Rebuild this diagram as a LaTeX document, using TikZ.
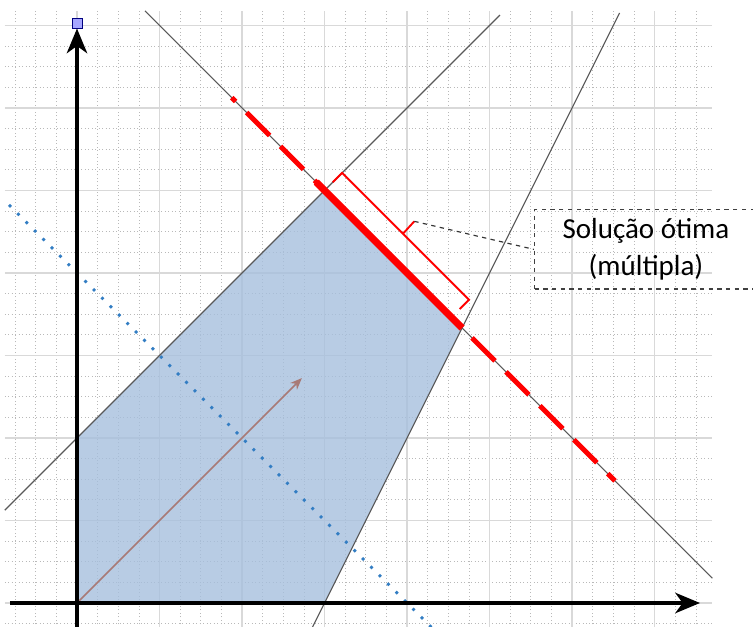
\documentclass[tikz,border=0pt]{standalone}
\usepackage{fontspec}
\setmainfont{Carlito}
\usetikzlibrary{arrows.meta,positioning,calc}

\definecolor{regionblue}{RGB}{166,191,221}
\definecolor{dotblue}{RGB}{50,125,195}
\definecolor{arrowbrown}{RGB}{168,122,118}

\begin{document}
\begin{tikzpicture}[x=0.5cm, y=0.5cm,
  minorgrid/.style={gray!55, line width=0.5pt, dash pattern=on 0.6pt off 1.8pt},
  majorgrid/.style={gray!30, line width=0.9pt},
  region/.style={fill=regionblue, fill opacity=0.8},
  constr/.style={draw=black!65, line width=0.8pt},
  isoline/.style={dotblue, line width=2.7pt, line cap=round, dash pattern=on 0pt off 8.2pt},
  gradarrow/.style={draw=arrowbrown, line width=1pt, -{Stealth[length=8pt,width=6.5pt,inset=2.5pt]}},
  optline/.style={red, line width=3.4pt, dash pattern=on 22.4pt off 10.7pt},
  optseg/.style={red, line width=4.8pt},
  axis/.style={line width=2.8pt, -{Stealth[length=17pt,width=14pt,inset=5pt]}},
  bracket/.style={red, line width=1.3pt},
  leader/.style={black!80, dashed, line width=0.8pt},
  callout/.style={draw=black!75, dashed, line width=0.9pt, align=center, minimum width=5.4cm, minimum height=1.92cm, inner sep=0pt, font=\fontsize{20}{25}\selectfont}
]
\useasboundingbox (-3.732,-1.163) rectangle (32.768,29.229);

% corners of the feasible region
\coordinate (O) at (0,0);
\coordinate (A) at (0,8);
\coordinate (B) at (12,20);
\coordinate (C) at (18.667,13.333);
\coordinate (D) at (12,0);

\draw[minorgrid, step=1] (-3.5,-1.2) grid (30.8,28.7);
\draw[majorgrid, step=4] (-3.5,-1.2) grid (30.8,28.7);

\fill[region] (O) -- (A) -- (B) -- (C) -- (D) -- cycle;

% constraints
\draw[constr] (-3.5,4.5) -- (20.5,28.5);
\draw[constr] (11.3,-1.4) -- (26.3,28.6);
\draw[constr] (3.3,28.7) -- (30.8,1.2);

\draw[isoline] (-3.25,19.25) -- (17.3,-1.3);
\draw[gradarrow] (O) -- (10.9,10.9);

% optimal objective line
\draw[optline, dash phase=12.6pt] (B) -- (7.5,24.5);
\draw[optline, dash phase=23.4pt] (C) -- (26.08,5.92);
\draw[optseg] (11.6,20.4) -- (C);

% axes
\node[draw=blue!50!black, fill=blue!35!white, minimum size=6.9pt, inner sep=0pt, line width=0.6pt] (ytop) at (0,28.11) {};
\draw[axis] (-3.25,0) -- (30.2,0);
\draw[axis] (0,-1.4) -- (ytop.south);

% bracket and label
\coordinate (tip) at (16.35,18.5);
\draw[bracket] (12.4,20.4) -- (12.85,20.85) -- (15.8,17.9) -- (tip)
  (15.8,17.9) -- (19.0,14.7) -- (18.55,14.25);

\node[callout] (sol) at (27.58,17.14) {Solução ótima\\(múltipla)};
\draw[leader] (tip) -- (sol.west);

\end{tikzpicture}
\end{document}
